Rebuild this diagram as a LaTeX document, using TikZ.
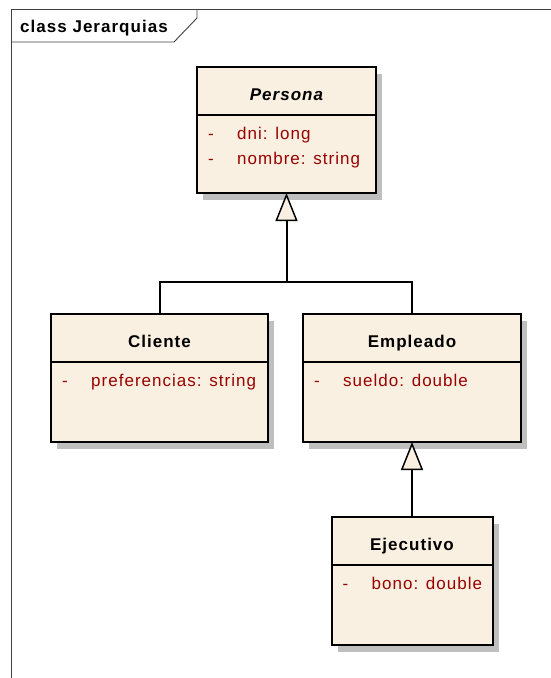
\documentclass[tikz,border=0pt]{standalone}
\usepackage{fontspec}
\setmainfont{Liberation Sans}[LetterSpace=6]
\usetikzlibrary{arrows.meta,shadows,calc}
\definecolor{fondoclase}{RGB}{249,240,226}
\definecolor{atributo}{RGB}{153,0,0}

\begin{document}
\begin{tikzpicture}[x=1pt,y=-1pt,
    clase/.style={draw,line width=2pt,fill=fondoclase,inner sep=0pt,outer sep=0pt,
        drop shadow={shadow xshift=6pt,shadow yshift=-7pt,fill=black!25,opacity=1}},
    titulo/.style={font=\fontsize{17}{20}\selectfont\bfseries,anchor=base},
    atrib/.style={font=\fontsize{17}{20}\selectfont,text=atributo,anchor=base west,inner sep=0pt},
    linea/.style={line width=2pt},
    hereda/.style={line width=2pt,-{Triangle[length=28pt,width=22pt,line width=1.5pt,fill=fondoclase]}},
    marco/.style={line width=0.9pt,black!75}]
    \useasboundingbox (0,0) rectangle (551,678);

    % marco del diagrama
    \draw[marco] (11,678) -- (11,9) -- (551,9);
    \draw[marco] (11,42) -- (174,42) -- (197,18) -- (197,9);
    \node[font=\fontsize{17}{20}\selectfont\bfseries,anchor=base west,inner sep=0pt] (diagrama) at (20,32) {class Jerarquias};

    % clases
    \node[clase,minimum width=179pt,minimum height=126pt] (persona) at (286.5,130) {};
    \node[clase,minimum width=217pt,minimum height=128pt] (cliente) at (159.5,378) {};
    \node[clase,minimum width=218pt,minimum height=128pt] (empleado) at (412,378) {};
    \node[clase,minimum width=161pt,minimum height=128pt] (ejecutivo) at (412,581) {};

    \foreach \c in {persona,cliente,empleado,ejecutivo}
    {
        \draw[linea] ($(\c.north west)+(0,48)$) -- ($(\c.north east)+(0,48)$);
    }

    \node[titulo] (personaT) at ($(persona.north)+(0,33)$) {\itshape Persona};
    \node[atrib] (personaG1) at ($(persona.north west)+(11,72)$) {-};
    \node[atrib] (personaA1) at ($(persona.north west)+(40,72)$) {dni: long};
    \node[atrib] (personaG2) at ($(persona.north west)+(11,97)$) {-};
    \node[atrib] (personaA2) at ($(persona.north west)+(40,97)$) {nombre: string};

    \node[titulo] (clienteT) at ($(cliente.north)+(0,33)$) {Cliente};
    \node[atrib] (clienteG1) at ($(cliente.north west)+(11,72)$) {-};
    \node[atrib] (clienteA1) at ($(cliente.north west)+(40,72)$) {preferencias: string};

    \node[titulo] (empleadoT) at ($(empleado.north)+(0,33)$) {Empleado};
    \node[atrib] (empleadoG1) at ($(empleado.north west)+(11,72)$) {-};
    \node[atrib] (empleadoA1) at ($(empleado.north west)+(40,72)$) {sueldo: double};

    \node[titulo] (ejecutivoT) at ($(ejecutivo.north)+(0,33)$) {Ejecutivo};
    \node[atrib] (ejecutivoG1) at ($(ejecutivo.north west)+(11,72)$) {-};
    \node[atrib] (ejecutivoA1) at ($(ejecutivo.north west)+(40,72)$) {bono: double};

    % herencia
    \coordinate (union) at ($(persona.south)+(0,89)$);
    \draw[linea] (cliente.north) |- (union);
    \draw[linea] (empleado.north) |- (union);
    \draw[hereda] (union) -- (persona.south);
    \draw[hereda] (ejecutivo.north) -- (empleado.south);
\end{tikzpicture}
\end{document}
